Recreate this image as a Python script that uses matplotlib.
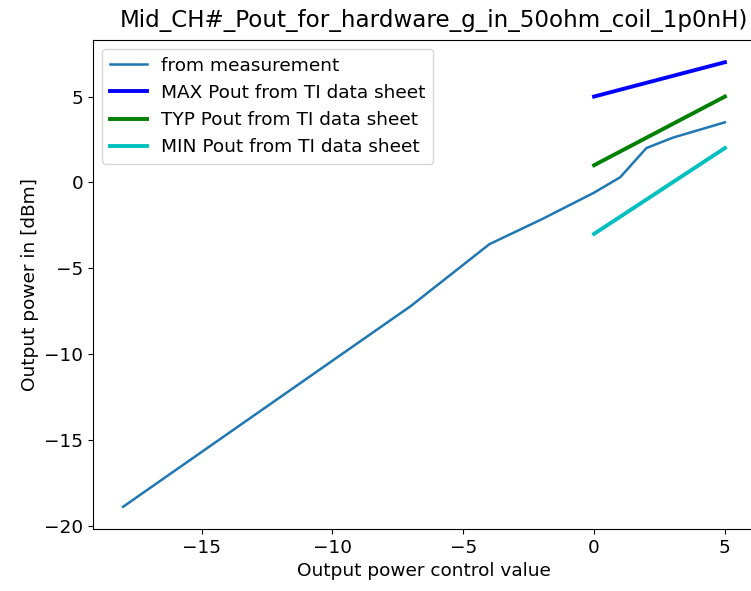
import matplotlib
matplotlib.use('Agg')
import matplotlib.pyplot as plt

# measured output power vs control value
meas_x = [-18, -7, -4, -2, 0, 1, 2, 3, 5]
meas_y = [-18.9, -7.2, -3.6, -2.15, -0.6, 0.3, 2.0, 2.6, 3.5]

# TI data sheet limits
ds_x = [0, 5]
max_y = [5, 7]
typ_y = [1, 5]
min_y = [-3, 2]

title = "Mid_CH#_Pout_for_hardware_g_in_50ohm_coil_1p0nH)"

fig = plt.figure(figsize=(7.51, 5.91), dpi=100)
# axes runs past the right edge, like the cropped screenshot
ax = fig.add_axes([93 / 751, (591 - 529) / 591, (755 - 93) / 751, (529 - 40) / 591])

ax.plot(meas_x, meas_y, color='#1f77b4', lw=1.8, label='from measurement')
ax.plot(ds_x, max_y, color='b', lw=2.8, label='MAX Pout from TI data sheet')
ax.plot(ds_x, typ_y, color='g', lw=2.8, label='TYP Pout from TI data sheet')
ax.plot(ds_x, min_y, color='c', lw=2.8, label='MIN Pout from TI data sheet')

ax.set_title(title, fontsize=16.6, x=0.515, pad=9)
ax.set_xlabel('Output power control value', fontsize=13.3)
ax.set_ylabel('Output power in [dBm]', fontsize=13.3)
ax.tick_params(labelsize=13.3)
ax.set_yticks([-20, -15, -10, -5, 0, 5])
ax.set_xticks([-15, -10, -5, 0, 5])
ax.legend(loc='upper left', fontsize=13.3, handlelength=2.0)

fig.savefig('out.png', dpi=100)
